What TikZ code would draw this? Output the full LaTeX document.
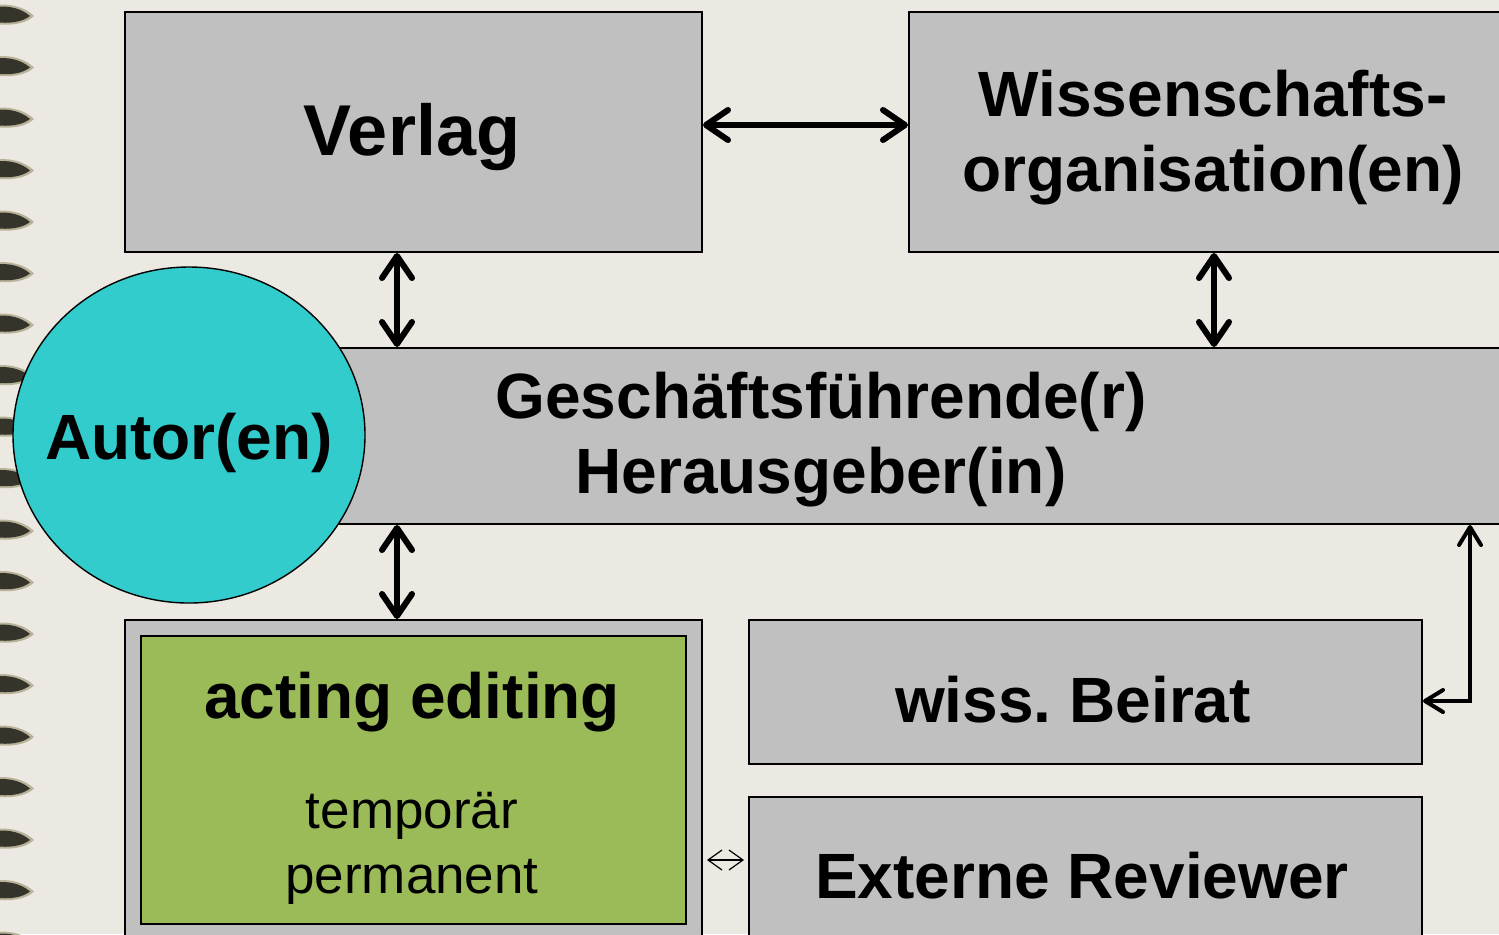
\documentclass[tikz,border=0pt]{standalone}
\usepackage{fontspec}
\setmainfont{Liberation Sans}
\usetikzlibrary{arrows.meta,shapes.geometric}

\definecolor{pagebg}{HTML}{ECE8E2}
\definecolor{boxgray}{HTML}{C0C0C0}
\definecolor{autorcyan}{HTML}{33CCCC}
\definecolor{actinggreen}{HTML}{9BBB59}
\definecolor{ringdark}{HTML}{35342A}
\definecolor{ringedge}{HTML}{B8B398}

\tikzset{
  panel/.style={draw=black, line width=1pt, fill=boxgray, inner sep=0pt, anchor=north west},
  bigtext/.style={font=\bfseries\fontsize{32}{37.5}\selectfont, align=center},
  smalltext/.style={font=\fontsize{26.5}{32.5}\selectfont, align=center},
  bothway/.style={{Straight Barb[round,length=11pt,width=15pt]}-{Straight Barb[round,length=11pt,width=15pt]}, line width=3pt},
  elbowway/.style={{Straight Barb[round,length=9pt,width=11pt]}-{Straight Barb[round,length=9pt,width=11pt]}, line width=2pt},
  thinway/.style={{Straight Barb[length=7pt,width=10pt]}-{Straight Barb[length=7pt,width=10pt]}, line width=0.6pt},
}

\begin{document}
\frenchspacing
\begin{tikzpicture}[x=0.5pt, y=-0.5pt]
  % Page and frame
  \useasboundingbox (0,0) rectangle (1499,934);
  \clip (0,0) rectangle (1499,934);
  \fill[pagebg] (0,0) rectangle (1499,934);

  % Binding marks on the left edge
  \foreach \k in {0,...,18} {
    \pgfmathsetmacro\ypos{15+51.5*\k}
    \begin{scope}[shift={(0,\ypos)}]
      \fill[ringedge] (-6,-10) .. controls (12,-12) and (26,-7) .. (34,1) .. controls (26,9) and (10,11) .. (-6,9) -- cycle;
      \fill[ringdark] (-6,-8) .. controls (10,-10) and (22,-6) .. (30,1) .. controls (22,7) and (10,9) .. (-6,7) -- cycle;
    \end{scope}
  }

  % Top row
  \node[panel, minimum width=288.5pt, minimum height=120pt] (verlag) at (124,11) {};
  \node[font=\bfseries\fontsize{36}{40}\selectfont] (verlaglabel) at (412,137) {Verlag};
  \node[panel, minimum width=305pt, minimum height=120pt] (wiss) at (908,11) {};
  \node[bigtext] (wisslabel) at (1213,138) {Wissenschafts-\\organisation(en)};

  % Middle bar and circle
  \node[panel, minimum width=697pt, minimum height=88pt] (gf) at (124,347) {};
  \node[bigtext] (gflabel) at (821,440) {Geschäftsführende(r)\\Herausgeber(in)};
  \node[ellipse, draw=black, line width=0.7pt, fill=autorcyan, minimum width=176pt, minimum height=168pt,
    inner sep=0pt] (autor) at (189,435) {};
  \node[bigtext] (autorlabel) at (189,443) {Autor(en)};

  % Bottom left block
  \node[panel, minimum width=288.5pt, minimum height=165pt] (acting) at (124,619) {};
  \node[panel, fill=actinggreen, minimum width=272.5pt, minimum height=144pt] (green) at (140,635) {};
  \node[bigtext] (actinglabel) at (412,702) {acting editing};
  \node[smalltext] (actingkinds) at (412,848) {temporär\\permanent};

  % Bottom right blocks
  \node[panel, minimum width=336.5pt, minimum height=72pt] (beirat) at (748,619) {};
  \node[bigtext] (beiratlabel) at (1073,700) {wiss. Beirat};
  \node[panel, minimum width=336.5pt, minimum height=80pt] (externe) at (748,796) {};
  \node[bigtext] (externelabel) at (1082,876) {Externe Reviewer};

  % Connectors
  \draw[bothway] ([yshift=3.5pt]verlag.east) -- ([yshift=3.5pt]wiss.west);
  \draw[bothway] ([xshift=136.5pt]verlag.south west) -- ([xshift=136.5pt]gf.north west);
  \draw[bothway] (wiss.south) -- (wiss.south |- gf.north);
  \draw[bothway] ([xshift=136.5pt]gf.south west) -- ([xshift=136.5pt]acting.north west);
  \coordinate (gfhook) at ([xshift=-25pt]gf.south east);
  \draw[elbowway] (gfhook) |- ([yshift=-4.5pt]beirat.east);
  \draw[thinway] ([xshift=2pt,yshift=8.5pt]externe.west -| acting.east) -- ([xshift=-2pt,yshift=8.5pt]externe.west);
\end{tikzpicture}
\end{document}
